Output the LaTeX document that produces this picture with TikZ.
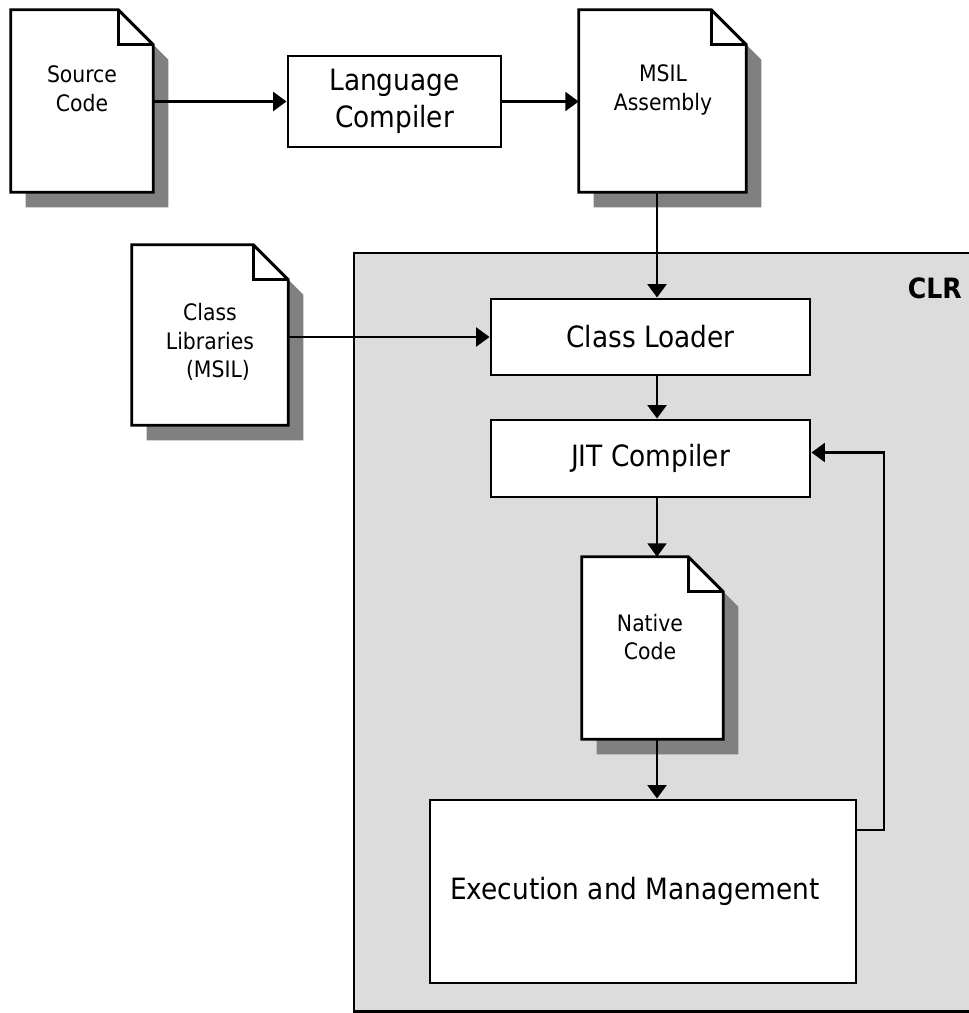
\documentclass[tikz,border=0pt]{standalone}
\usepackage{fontspec}
\setmainfont{DejaVu Sans Condensed}
\usetikzlibrary{arrows.meta}
\pgfdeclarelayer{bg}
\pgfdeclarelayer{shp}
\pgfsetlayers{bg,shp,main}
\definecolor{shadowgray}{HTML}{808080}
\definecolor{clrgray}{HTML}{DCDCDC}
\newcommand\docshape[1]{%
  \fill[shadowgray] ([shift={(15,15)}]#1.north west) -- ([shift={(-20,15)}]#1.north east)
     -- ([shift={(15,50)}]#1.north east) -- ([shift={(15,15)}]#1.south east)
     -- ([shift={(15,15)}]#1.south west) -- cycle;
  \filldraw[fill=white, line width=2.2pt] (#1.north west) -- ([shift={(-35,0)}]#1.north east)
     -- ([shift={(0,35)}]#1.north east) -- (#1.south east) -- (#1.south west) -- cycle;
  \draw[line width=2.2pt] ([shift={(-35,0)}]#1.north east) |- ([shift={(0,35)}]#1.north east);
}
\begin{document}
\begin{tikzpicture}[x=0.75pt,y=-0.75pt, line join=miter,
  sz/.style 2 args={minimum width=#1*0.75pt, minimum height=#2*0.75pt},
  docbody/.style={rectangle, draw=none, inner sep=0pt},
  proc/.style={rectangle, draw, line width=2.2pt, fill=white, inner sep=0pt, align=center,
     font=\fontsize{22pt}{27.75pt}\selectfont},
  doctext/.style={inner sep=0pt, align=center, font=\fontsize{17pt}{21.5pt}\selectfont},
  arr/.style={line width=2.2pt, -{Triangle[length=10pt,width=14pt]}}]
\useasboundingbox (0,0) rectangle (968,1013);

% CLR region (its right edge lies beyond the picture)
\begin{pgfonlayer}{bg}
\fill[white] (0,0) rectangle (968,1013);
\node[fill=clrgray, anchor=north west, sz={700}{758}, inner sep=0pt] (clr) at (354,253) {};
\draw[line width=2.2pt] (clr.north east) -- (clr.north west) -- (clr.south west) -- (clr.south east);
\end{pgfonlayer}
\node[anchor=base east, inner sep=0pt, font=\fontsize{21pt}{25pt}\selectfont\bfseries] (clrt) at (962,298) {CLR};

% documents
\node[docbody, sz={142}{182}] (src) at (82,101) {};
\node[docbody, sz={167}{182}] (msil) at (662.5,101) {};
\node[docbody, sz={156}{180}] (clib) at (210,335) {};
\node[docbody, sz={141}{182}] (nat) at (652.5,648) {};
\begin{pgfonlayer}{shp}
\docshape{src}
\docshape{msil}
\docshape{clib}
\docshape{nat}
\end{pgfonlayer}
\node[doctext] (srct) at (82,89) {Source\\Code};
\node[doctext] (msilt) at (663,90) {MSIL\\Assembly};
\node[doctext] (clibt) at (210,342) {Class\\Libraries\\\hspace{0.7em}(MSIL)};
\node[doctext] (natt) at (650,637) {Native\\Code};

% process boxes
\node[proc, sz={213}{91}] (lc) at (394.5,101.5) {Language\\Compiler};
\node[proc, sz={319}{76}] (cl) at (650.5,337) {Class Loader};
\node[proc, sz={319}{77}] (jit) at (650.5,458.5) {JIT Compiler};
\node[proc, sz={426}{183}] (exec) at (643,891.5) {\hspace{-12pt}Execution and Management};

% connectors
\coordinate (spine) at (657,0);
\coordinate (fb) at (884,830);
\draw[arr] (src.east |- lc.west) -- (lc.west);
\draw[arr] (lc.east) -- (lc.east -| msil.west);
\draw[arr] (msil.south -| spine) -- (cl.north -| spine);
\draw[arr] (clib.east |- cl.west) -- (cl.west);
\draw[arr] (cl.south -| spine) -- (jit.north -| spine);
\draw[arr] (jit.south -| spine) -- (nat.north -| spine);
\draw[arr] (nat.south -| spine) -- (exec.north -| spine);
\draw[arr] (exec.east |- fb) -- (fb) |- ([yshift=4.5pt]jit.east);
\end{tikzpicture}
\end{document}
